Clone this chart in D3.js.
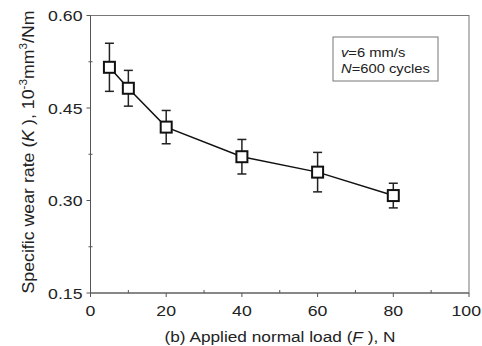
<!DOCTYPE html>
<html>
<head>
<meta charset="utf-8">
<script src="https://cdn.jsdelivr.net/npm/d3@7"></script>
<style>
  html, body { margin: 0; padding: 0; background: #fff; }
  svg text { font-family: "Liberation Sans", Arial, sans-serif; fill: #222; }
</style>
</head>
<body>
<svg id="chart" width="482" height="346"></svg>
<script>
// Applied normal load (N) and specific wear rate (10^-3 mm^3/Nm) with error bars
const loads = [5, 10, 20, 40, 60, 80];
const wearRate = [0.516, 0.482, 0.419, 0.371, 0.346, 0.308];
const wearErr = [0.039, 0.029, 0.027, 0.028, 0.032, 0.020];
const xTicks = [0, 20, 40, 60, 80, 100];
const yTicks = [0.15, 0.30, 0.45, 0.60];

const svg = d3.select("#chart");
const W = 482;
const plotL = 90.5, plotR = 469, plotT = 15.5, plotB = 293;
const sx = 1.18; // horizontal widening of glyphs

const x = d3.scaleLinear().domain([0, 100]).range([plotL, plotR]);
const y = d3.scaleLinear().domain([0.15, 0.60]).range([plotB, plotT]);

const axisColor = "#555";

// frame
svg.append("rect")
  .attr("x", plotL).attr("y", plotT)
  .attr("width", plotR - plotL).attr("height", plotB - plotT)
  .attr("fill", "none").attr("stroke", "#777").attr("stroke-width", 1);

// bottom axis: major ticks outward, minor ticks inward
const gx = svg.append("g").attr("transform", `translate(0,${plotB})`);
gx.append("line").attr("x1", plotL).attr("x2", plotR).attr("stroke", axisColor);
gx.selectAll("line.maj").data(xTicks).join("line")
  .attr("x1", d => x(d)).attr("x2", d => x(d)).attr("y1", 0).attr("y2", 4)
  .attr("stroke", axisColor);
gx.selectAll("line.min").data(d3.range(10, 100, 20)).join("line")
  .attr("x1", d => x(d)).attr("x2", d => x(d)).attr("y1", 0).attr("y2", -3)
  .attr("stroke", axisColor);
gx.selectAll("text.tick").data(xTicks).join("text")
  .attr("class", "tick")
  .attr("text-anchor", "middle").attr("font-size", 15)
  .text(d => d)
  .each(function (d) {
    // keep the last label inside the page edge
    const half = this.getComputedTextLength() * sx / 2;
    const cx = Math.min(x(d), W - 1 - half);
    d3.select(this).attr("transform", `translate(${cx},23) scale(${sx},1)`);
  });

// left axis
const gy = svg.append("g").attr("transform", `translate(${plotL},0)`);
gy.append("line").attr("y1", plotT).attr("y2", plotB).attr("stroke", axisColor);
gy.selectAll("line.maj").data(yTicks).join("line")
  .attr("y1", d => y(d)).attr("y2", d => y(d)).attr("x1", 0).attr("x2", -4)
  .attr("stroke", axisColor);
gy.selectAll("line.min").data([0.225, 0.375, 0.525]).join("line")
  .attr("y1", d => y(d)).attr("y2", d => y(d)).attr("x1", -2).attr("x2", 2)
  .attr("stroke", axisColor);
gy.selectAll("text.tick").data(yTicks).join("text")
  .attr("transform", d => `translate(-8,${y(d) + 5.5}) scale(${sx},1)`)
  .attr("text-anchor", "end").attr("font-size", 15)
  .text(d => d3.format(".2f")(d));

// axis titles
const xt = svg.append("text")
  .attr("transform", `translate(280,342) scale(1.15,1)`)
  .attr("text-anchor", "middle").attr("font-size", 15);
xt.append("tspan").text("(b) Applied normal load (");
xt.append("tspan").attr("font-style", "italic").text("F");
xt.append("tspan").text(" ), N");

const yt = svg.append("text")
  .attr("transform", `translate(34,152) rotate(-90) scale(1.11,1)`)
  .attr("text-anchor", "middle").attr("font-size", 16);
yt.append("tspan").text("Specific wear rate (");
yt.append("tspan").attr("font-style", "italic").text("K");
yt.append("tspan").text(" ), 10");
yt.append("tspan").attr("font-size", 10.5).attr("dy", -7).text("-3");
yt.append("tspan").attr("dy", 7).text("mm");
yt.append("tspan").attr("font-size", 10.5).attr("dy", -7).text("3");
yt.append("tspan").attr("dy", 7).text("/Nm");

// connecting line
svg.append("path")
  .datum(loads.map((d, i) => [d, wearRate[i]]))
  .attr("d", d3.line().x(d => x(d[0])).y(d => y(d[1])))
  .attr("fill", "none").attr("stroke", "#111").attr("stroke-width", 1.5);

// error bars
const eb = svg.append("g").attr("stroke", "#222").attr("stroke-width", 1.5);
loads.forEach((d, i) => {
  const cx = x(d), y1 = y(wearRate[i] + wearErr[i]), y2 = y(wearRate[i] - wearErr[i]);
  eb.append("line").attr("x1", cx).attr("x2", cx).attr("y1", y1).attr("y2", y2);
  eb.append("line").attr("x1", cx - 4.5).attr("x2", cx + 4.5).attr("y1", y1).attr("y2", y1);
  eb.append("line").attr("x1", cx - 4.5).attr("x2", cx + 4.5).attr("y1", y2).attr("y2", y2);
});

// square markers
svg.selectAll("rect.pt").data(loads).join("rect")
  .attr("x", (d) => x(d) - 5.5)
  .attr("y", (d, i) => y(wearRate[i]) - 5.5)
  .attr("width", 11).attr("height", 11)
  .attr("fill", "#fff").attr("stroke", "#111").attr("stroke-width", 2);

// condition box
svg.append("rect")
  .attr("x", 333).attr("y", 37).attr("width", 105).attr("height", 44)
  .attr("fill", "#fff").attr("stroke", "#777").attr("stroke-width", 1);
const t1 = svg.append("text")
  .attr("transform", `translate(341,57) scale(${sx},1)`).attr("font-size", 12.5);
t1.append("tspan").attr("font-style", "italic").text("v");
t1.append("tspan").text("=6 mm/s");
const t2 = svg.append("text")
  .attr("transform", `translate(341,73) scale(${sx},1)`).attr("font-size", 12.5);
t2.append("tspan").attr("font-style", "italic").text("N");
t2.append("tspan").text("=600 cycles");
</script>
</body>
</html>
